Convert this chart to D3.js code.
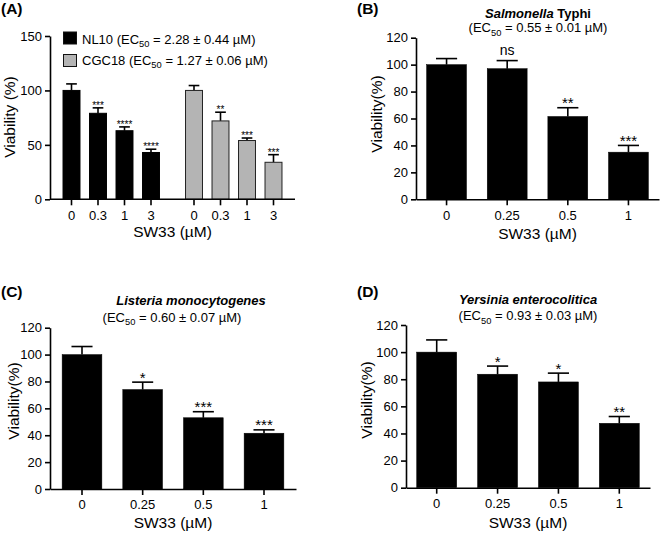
<!DOCTYPE html>
<html><head><meta charset="utf-8">
<script src="https://cdn.jsdelivr.net/npm/d3@7"></script>
<style>
body{margin:0;background:#fff}
svg{display:block}
text{font-family:"Liberation Sans",Arial,sans-serif;fill:#000}
</style>
</head><body>
<svg id="chart" width="661" height="535"></svg>
<script>
// ---------- data ----------
const groupsA = ["NL10", "CGC18"];
const doseLabelsA = ["0", "0.3", "1", "3"];
const nl10Values = [100, 79, 63, 43];
const nl10Errors = [6, 5, 3.5, 3];
const nl10Sig = ["", "***", "****", "****"];
const cgc18Values = [100, 72, 54, 34];
const cgc18Errors = [4.5, 8, 2.3, 7];
const cgc18Sig = ["", "**", "***", "***"];
const legendEC50 = ["2.28 ± 0.44", "1.27 ± 0.06"];
const yTicksA = [0, 50, 100, 150];

const doseLabels = ["0", "0.25", "0.5", "1"];
const yTicks = [0, 20, 40, 60, 80, 100, 120];

const salmonellaValues = [100, 97, 61.5, 35];
const salmonellaErrors = [4.5, 6, 6.5, 5];
const salmonellaSig = ["", "ns", "**", "***"];
const salmonellaTitle = ["Salmonella", " Typhi"];
const salmonellaEC50 = "0.55 ± 0.01";

const listeriaValues = [100, 74, 53, 41.5];
const listeriaErrors = [6, 5.5, 4.5, 2.5];
const listeriaSig = ["", "*", "***", "***"];
const listeriaTitle = ["Listeria monocytogenes", ""];
const listeriaEC50 = "0.60 ± 0.07";

const yersiniaValues = [100, 83.7, 78, 47.5];
const yersiniaErrors = [9, 6, 6.5, 5];
const yersiniaSig = ["", "*", "*", "**"];
const yersiniaTitle = ["Yersinia enterocolitica", ""];
const yersiniaEC50 = "0.93 ± 0.03";

// ---------- helpers ----------
const svg = d3.select("#chart");
const FONT = "Liberation Sans, Arial, sans-serif";

function styleAxis(g, fs) {
  g.attr("font-size", fs).attr("font-family", FONT);
  g.selectAll("path.domain").attr("stroke", "#000").attr("stroke-width", 1.6);
  g.selectAll(".tick line").attr("stroke", "#000").attr("stroke-width", 1.6);
  g.selectAll(".tick text").attr("fill", "#000");
}

function ecText(sel, prefix, ec, fs) {
  sel.append("tspan").text(prefix + "(EC");
  sel.append("tspan").attr("font-size", fs * 0.72).attr("dy", fs * 0.3).text("50");
  sel.append("tspan").attr("dy", -fs * 0.3).text(" = " + ec + " µM)");
}

function drawBars(g, x, y, keys, values, errors, sig, opt) {
  const bw = x.bandwidth();
  const cap = bw * opt.capRatio;
  values.forEach((v, i) => {
    const x0 = x(keys[i]);
    const cx = x0 + bw / 2;
    const top = y(v + errors[i]);
    g.append("line").attr("x1", cx).attr("x2", cx).attr("y1", y(v)).attr("y2", top)
      .attr("stroke", "#000").attr("stroke-width", 1.6);
    g.append("line").attr("x1", cx - cap / 2).attr("x2", cx + cap / 2).attr("y1", top).attr("y2", top)
      .attr("stroke", "#000").attr("stroke-width", 1.6);
    g.append("rect").attr("x", x0).attr("y", y(v)).attr("width", bw).attr("height", y(0) - y(v))
      .attr("fill", opt.fill).attr("stroke", opt.stroke).attr("stroke-width", opt.strokeWidth);
    if (sig[i]) {
      const isNs = sig[i] === "ns";
      g.append("text").attr("x", cx).attr("y", top + (isNs ? -5.5 : opt.sigOffset))
        .attr("text-anchor", "middle").attr("font-size", isNs ? opt.nsSize : opt.sigSize).text(sig[i]);
    }
  });
}

// ---------- Panel A ----------
(function () {
  const g = svg.append("g");
  const x0 = d3.scaleBand().domain(groupsA).range([50, 295]).paddingInner(0.12).paddingOuter(0.06);
  const xi = d3.scaleBand().domain(doseLabelsA).range([0, x0.bandwidth()]).paddingInner(0.36).paddingOuter(0.214);
  const y = d3.scaleLinear().domain([0, 150]).range([199.3, 36]);
  const series = [
    { key: "NL10", values: nl10Values, errors: nl10Errors, sig: nl10Sig, fill: "#000", stroke: "#000" },
    { key: "CGC18", values: cgc18Values, errors: cgc18Errors, sig: cgc18Sig, fill: "#b4b4b4", stroke: "#222" }
  ];
  series.forEach(s => {
    const gg = g.append("g").attr("transform", `translate(${x0(s.key)},0)`);
    drawBars(gg, xi, y, doseLabelsA, s.values, s.errors, s.sig,
      { capRatio: 0.63, fill: s.fill, stroke: s.stroke, strokeWidth: 1, sigOffset: 1, sigSize: 10, nsSize: 10 });
    const ax = gg.append("g").attr("transform", `translate(0,${y(0)})`)
      .call(d3.axisBottom(xi).tickSize(6).tickPadding(5).tickSizeOuter(0));
    ax.select("path.domain").remove();
    styleAxis(ax, 13);
  });
  g.append("line").attr("x1", 50).attr("x2", 295).attr("y1", y(0)).attr("y2", y(0))
    .attr("stroke", "#000").attr("stroke-width", 1.6);
  const ay = g.append("g").attr("transform", "translate(50,0)")
    .call(d3.axisLeft(y).tickValues(yTicksA).tickSize(5).tickPadding(3).tickSizeOuter(0));
  styleAxis(ay, 13);
  // legend
  const leg = [{ fill: "#000", y: 32, ty: 43.5 }, { fill: "#b4b4b4", y: 54.5, ty: 64.5 }];
  leg.forEach((l, i) => {
    g.append("rect").attr("x", 63.5).attr("y", l.y).attr("width", 13).attr("height", 12)
      .attr("fill", l.fill).attr("stroke", "#111").attr("stroke-width", 1);
    const t = g.append("text").attr("x", 82).attr("y", l.ty).attr("font-size", 13);
    ecText(t, groupsA[i] + " ", legendEC50[i], 13);
  });
  g.append("text").attr("x", 172.5).attr("y", 237).attr("text-anchor", "middle").attr("font-size", 15.5).text("SW33 (µM)");
  g.append("text").attr("transform", "translate(15,117) rotate(-90)").attr("text-anchor", "middle")
    .attr("font-size", 15.5).text("Viability (%)");
  g.append("text").attr("x", 1).attr("y", 14).attr("font-size", 15.5).attr("font-weight", "bold").text("(A)");
})();

// ---------- Panels B, C, D ----------
const panels = [
  { label: "(B)", lx: 357, ly: 14, xRange: [416, 659], yRange: [199.3, 37.7], pi: 0.342, po: 0.175,
    values: salmonellaValues, errors: salmonellaErrors, sig: salmonellaSig, title: salmonellaTitle, ec: salmonellaEC50,
    t1: [538, 17.5], t2: [538, 32], xt: 239, yl: [381.5, 114] },
  { label: "(C)", lx: 1, ly: 297, xRange: [50, 296], yRange: [489, 327.7], pi: 0.345, po: 0.2,
    values: listeriaValues, errors: listeriaErrors, sig: listeriaSig, title: listeriaTitle, ec: listeriaEC50,
    t1: [191, 305], t2: [172, 321.5], xt: 528, yl: [18.5, 401] },
  { label: "(D)", lx: 357, ly: 297, xRange: [406, 650], yRange: [487.7, 325], pi: 0.343, po: 0.176,
    values: yersiniaValues, errors: yersiniaErrors, sig: yersiniaSig, title: yersiniaTitle, ec: yersiniaEC50,
    t1: [528, 303.5], t2: [528, 320], xt: 527.5, yl: [371.5, 400] }
];

panels.forEach(p => {
  const g = svg.append("g");
  const x = d3.scaleBand().domain(doseLabels).range(p.xRange).paddingInner(p.pi).paddingOuter(p.po);
  const y = d3.scaleLinear().domain([0, 120]).range(p.yRange);
  drawBars(g, x, y, doseLabels, p.values, p.errors, p.sig,
    { capRatio: 0.53, fill: "#000", stroke: "#000", strokeWidth: 0.5, sigOffset: 0.5, sigSize: 15, nsSize: 14 });
  const ax = g.append("g").attr("transform", `translate(0,${y(0)})`)
    .call(d3.axisBottom(x).tickSize(6).tickPadding(5).tickSizeOuter(0));
  styleAxis(ax, 13);
  const ay = g.append("g").attr("transform", `translate(${p.xRange[0]},0)`)
    .call(d3.axisLeft(y).tickValues(yTicks).tickSize(5).tickPadding(3).tickSizeOuter(0));
  styleAxis(ay, 13);
  const cx = (p.xRange[0] + p.xRange[1]) / 2;
  g.append("text").attr("x", cx).attr("y", p.xt).attr("text-anchor", "middle").attr("font-size", 15.5).text("SW33 (µM)");
  g.append("text").attr("transform", `translate(${p.yl[0]},${p.yl[1]}) rotate(-90)`).attr("text-anchor", "middle")
    .attr("font-size", 15.5).text("Viability(%)");
  g.append("text").attr("x", p.lx).attr("y", p.ly).attr("font-size", 15.5).attr("font-weight", "bold").text(p.label);
  const t1 = g.append("text").attr("x", p.t1[0]).attr("y", p.t1[1]).attr("text-anchor", "middle")
    .attr("font-size", 13).attr("font-weight", "bold");
  t1.append("tspan").attr("font-style", "italic").text(p.title[0]);
  if (p.title[1]) t1.append("tspan").text(p.title[1]);
  const t2 = g.append("text").attr("x", p.t2[0]).attr("y", p.t2[1]).attr("text-anchor", "middle").attr("font-size", 13);
  ecText(t2, "", p.ec, 13);
});
</script>
</body></html>
